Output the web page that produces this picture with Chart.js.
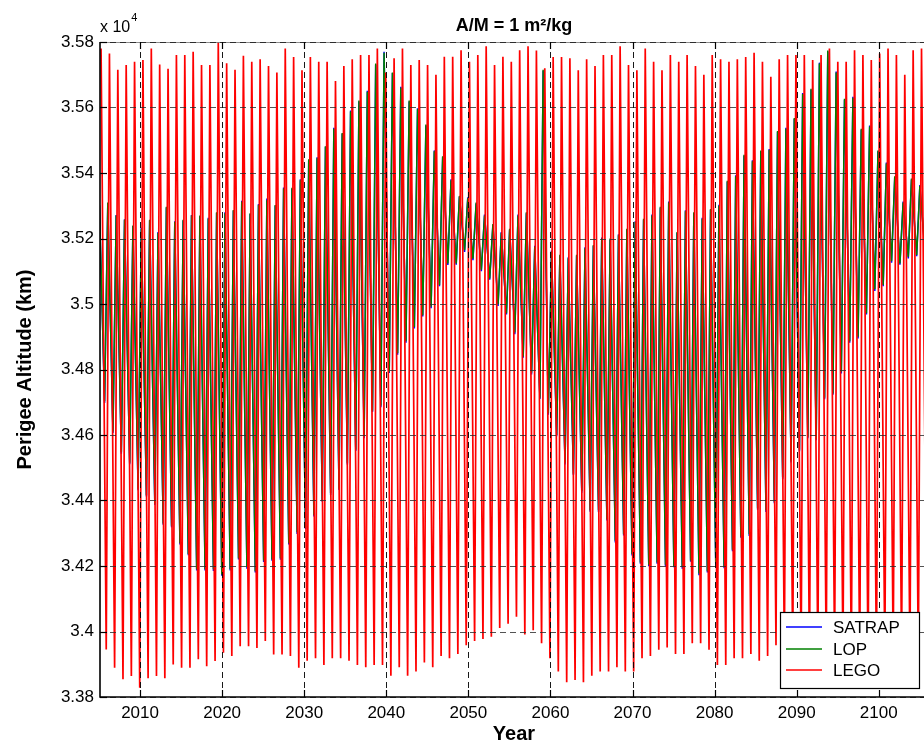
<!DOCTYPE html>
<html>
<head>
<meta charset="utf-8">
<script src="https://cdn.jsdelivr.net/npm/chart.js@4.4.0/dist/chart.umd.min.js"></script>
<style>
  html, body { margin: 0; padding: 0; background: #fff; overflow: hidden; width: 924px; height: 744px; }
  #wrap { position: absolute; left: 0; top: 0; width: 930px; height: 744px; }
</style>
</head>
<body>
<div id="wrap"><canvas id="chart" width="930" height="744"></canvas></div>
<script>
// ---- perigee altitude history (km), one maximum and one minimum per annual cycle ----
const yearTicks = [2010, 2020, 2030, 2040, 2050, 2060, 2070, 2080, 2090, 2100];
const altitudeTicks = [33800, 34000, 34200, 34400, 34600, 34800, 35000, 35200, 35400, 35600, 35800];
const seriesNames = ['SATRAP', 'LOP', 'LEGO'];
const seriesColors = ['#0000ff', '#008000', '#ff0000'];

// epochs of the annual cycle (years)
const legoFirstPeak = 2005.25;
const lopFirstPeak = 2005.05;
const cycleLength = 1.02;
const troughDelay = 0.63;

const legoPeaks = [
  35780, 35765, 35715, 35730, 35740, 35745, 35780, 35731, 35718, 35760, 35760, 35770, 35730, 35730, 35798, 35735, 35715,
  35758, 35740, 35747, 35727, 35707, 35780, 35754, 35714, 35754, 35740, 35740, 35681, 35727, 35747, 35760, 35760, 35780,
  35707, 35750, 35780, 35730, 35745, 35730, 35700, 35755, 35755, 35775, 35740, 35760, 35787, 35730, 35755, 35740, 35775,
  35787, 35774, 35720, 35754, 35754, 35750, 35714, 35747, 35727, 35760, 35760, 35787, 35730, 35714, 35780, 35740,
  35714, 35760, 35740, 35760, 35727, 35700, 35760, 35747, 35740, 35747, 35754, 35767, 35740, 35694, 35747, 35760,
  35760, 35760, 35745, 35760, 35780, 35740, 35740, 35775, 35760, 35745, 35765, 35780, 35760, 35700, 35775, 35780
];
const legoTroughs = [
  33945, 33889, 33854, 33864, 33828, 33857, 33864, 33857, 33899, 33889, 33889, 33915, 33894, 33910, 33935, 33925,
  33955, 33955, 33950, 33971, 33930, 33930, 33925, 33889,
  33911, 33918, 33898, 33918, 33918, 33911, 33898, 33891, 33898,
  33898, 33865, 33891, 33865, 33878, 33905, 33891, 33925, 33918, 33931, 33958, 33971, 33977, 33984, 34011, 34024, 34045,
  33991, 34004, 33964, 33918, 33878, 33845, 33852, 33845, 33865, 33878, 33878, 33891, 33878, 33878, 33918, 33925, 33944,
  33951, 33931, 33931, 33964, 33964, 33944, 33898, 33898, 33918, 33918, 33931, 33911, 33925, 33958,
  33930, 33920, 33910, 33900, 33910, 33920, 33930, 33920, 33910, 33900, 33890, 33900, 33910, 33920, 33930, 33920, 33910, 33900
];

const lopPeaks = [
  35300, 35310, 35270, 35257, 35240, 35230, 35257, 35217, 35297, 35250, 35257, 35270, 35270, 35260, 35280,
  35277, 35287, 35312, 35277, 35302, 35317, 35302, 35353, 35355, 35378, 35442, 35445, 35482, 35535, 35522, 35588, 35621, 35648, 35734,
  35767, 35707, 35660, 35621, 35595, 35548, 35466, 35451, 35378, 35330,
  35323, 35310, 35270, 35244, 35217, 35230,
  35270, 35280, 35175, 35715, 35160, 35150, 35140, 35150, 35170, 35180, 35200, 35200, 35210, 35230, 35250, 35260, 35270,
  35297, 35310, 35220, 35283, 35280, 35260, 35290, 35300, 35376, 35390, 35456, 35436, 35469, 35470, 35528, 35535, 35568,
  35641, 35657, 35734, 35774, 35707, 35627, 35630, 35535, 35542, 35469, 35429, 35390, 35310, 35383, 35360
];
const lopTroughs = [
  34703, 34611, 34548, 34515, 34436, 34416, 34390, 34330, 34323, 34270, 34237, 34190, 34190, 34190, 34174, 34190,
  34224, 34197, 34184, 34217, 34220, 34224, 34270, 34303, 34317, 34356, 34400, 34422, 34436, 34515, 34555, 34595, 34674,
  34690, 34793, 34850, 34886, 34930, 34966, 34992, 35058, 35124, 35124, 35164, 35138, 35105, 35078, 34999, 34972, 34913,
  34840, 34790, 34714, 34667, 34600, 34515, 34482, 34429, 34370, 34370, 34343, 34277, 34297, 34237, 34211, 34204, 34211,
  34204, 34200, 34197, 34217, 34177, 34184, 34210, 34197, 34250, 34290, 34297, 34376, 34370, 34396, 34470, 34520, 34555,
  34595, 34588, 34714, 34727, 34793, 34886, 34900, 34972, 35045, 35058, 35131, 35124, 35144, 35150, 35160
];

const satrapPeaks = [
  35302, 35308, 35272, 35259, 35238, 35233, 35255, 35220, 35295, 35253, 35255, 35272, 35268, 35263, 35278,
  35280, 35285, 35315, 35275, 35305, 35322, 35300, 35356, 35352, 35381, 35440, 35448, 35480, 35538, 35520, 35591, 35618, 35651, 35731,
  35770, 35705, 35663, 35618, 35598, 35545, 35469, 35448, 35381, 35327,
  35326, 35307, 35273, 35241, 35220, 35227,
  35273, 35277, 35178, 35712, 35163, 35147, 35143, 35147, 35173, 35177, 35203, 35197, 35213, 35227, 35253, 35257, 35273,
  35294, 35313, 35217, 35286, 35277, 35263, 35287, 35303, 35373, 35393, 35453, 35439, 35466, 35473, 35525, 35538, 35565,
  35644, 35654, 35737, 35771, 35710, 35624, 35633, 35532, 35545, 35466, 35432, 35387, 35313, 35380, 35363
];
const satrapTroughs = [
  34698, 34606, 34543, 34511, 34431, 34412, 34386, 34326, 34318, 34266, 34233, 34186, 34186, 34185, 34170, 34186,
  34220, 34192, 34180, 34212, 34216, 34219, 34266, 34298, 34313, 34351, 34396, 34417, 34432, 34510, 34551, 34590, 34670,
  34685, 34789, 34845, 34882, 34925, 34962, 34987, 35054, 35119, 35120, 35159, 35134, 35100, 35074, 34994, 34968, 34908,
  34836, 34785, 34710, 34662, 34596, 34510, 34478, 34424, 34366, 34365, 34339, 34272, 34293, 34232, 34207, 34199, 34207,
  34199, 34196, 34192, 34213, 34172, 34180, 34205, 34193, 34245, 34286, 34292, 34372, 34365, 34392, 34465, 34516, 34550,
  34590, 34584, 34709, 34723, 34788, 34882, 34895, 34968, 35040, 35054, 35126, 35120, 35139, 35146, 35156
];

// interleave maxima and minima on the cycle epochs
function cycleSeries(peaks, troughs, firstPeak) {
  const pts = [];
  for (let i = 0; i < peaks.length; i++) {
    const t = firstPeak + i * cycleLength;
    pts.push({ x: t, y: peaks[i] });
    pts.push({ x: t + troughDelay, y: troughs[i] });
  }
  return pts;
}

const FONT = '"Liberation Sans", Arial, Helvetica, sans-serif';

function fmtAlt(v) { return String(parseFloat((v / 1e4).toFixed(2))); }

// axes decoration, grid, labels and legend in the plotting-package style
const figurePlugin = {
  id: 'figure',
  beforeDraw(chart) {
    const ctx = chart.ctx;
    ctx.save();
    ctx.fillStyle = '#fff';
    ctx.fillRect(0, 0, chart.width, chart.height);
    ctx.restore();
  },
  afterDatasetsDraw(chart) {
    const ctx = chart.ctx;
    const area = chart.chartArea;
    const xs = chart.scales.x, ys = chart.scales.y;
    ctx.save();

    // dashed grid
    ctx.lineWidth = 1;
    ctx.setLineDash([6, 4]);
    ctx.strokeStyle = 'rgba(40,40,40,0.8)';
    altitudeTicks.forEach(v => {
      const y = Math.round(ys.getPixelForValue(v)) + 0.5;
      ctx.beginPath(); ctx.moveTo(area.left, y); ctx.lineTo(area.right, y); ctx.stroke();
    });
    ctx.strokeStyle = 'rgba(0,0,0,0.9)';
    yearTicks.forEach(v => {
      const x = Math.round(xs.getPixelForValue(v)) + 0.5;
      ctx.beginPath(); ctx.moveTo(x, area.top); ctx.lineTo(x, area.bottom); ctx.stroke();
    });
    ctx.setLineDash([]);

    // axis box
    ctx.strokeStyle = '#000';
    ctx.lineWidth = 1.6;
    ctx.beginPath();
    ctx.moveTo(area.left, area.top); ctx.lineTo(area.left, area.bottom); ctx.lineTo(area.right, area.bottom);
    ctx.stroke();
    ctx.lineWidth = 1;
    ctx.strokeStyle = 'rgba(0,0,0,0.45)';
    ctx.beginPath(); ctx.moveTo(area.left, area.top + 0.5); ctx.lineTo(area.right, area.top + 0.5); ctx.stroke();

    // inward tick marks
    ctx.strokeStyle = '#000';
    ctx.lineWidth = 1.2;
    const tl = 7;
    yearTicks.forEach(v => {
      const x = Math.round(xs.getPixelForValue(v)) + 0.5;
      ctx.beginPath(); ctx.moveTo(x, area.bottom); ctx.lineTo(x, area.bottom - tl); ctx.stroke();
      ctx.beginPath(); ctx.moveTo(x, area.top); ctx.lineTo(x, area.top + tl); ctx.stroke();
    });
    altitudeTicks.forEach(v => {
      const y = Math.round(ys.getPixelForValue(v)) + 0.5;
      ctx.beginPath(); ctx.moveTo(area.left, y); ctx.lineTo(area.left + tl, y); ctx.stroke();
    });

    // tick labels
    ctx.fillStyle = '#000';
    ctx.font = '17px ' + FONT;
    ctx.textAlign = 'right';
    ctx.textBaseline = 'middle';
    altitudeTicks.forEach(v => {
      ctx.fillText(fmtAlt(v), area.left - 6, ys.getPixelForValue(v));
    });
    ctx.textAlign = 'center';
    yearTicks.forEach(v => {
      ctx.fillText(String(v), xs.getPixelForValue(v), area.bottom + 16);
    });

    // exponent note
    ctx.textAlign = 'left';
    ctx.textBaseline = 'alphabetic';
    ctx.font = '16px ' + FONT;
    ctx.fillText('x 10', area.left, 32);
    const w = ctx.measureText('x 10').width;
    ctx.font = '11px ' + FONT;
    ctx.fillText('4', area.left + w + 1, 21);

    // title
    ctx.font = 'bold 18px ' + FONT;
    ctx.textAlign = 'center';
    ctx.fillText('A/M = 1 m\u00b2/kg', (area.left + area.right) / 2, 31);

    // axis titles
    ctx.font = 'bold 20px ' + FONT;
    ctx.textBaseline = 'middle';
    ctx.fillText('Year', (area.left + area.right) / 2, 734);
    ctx.save();
    ctx.translate(25, (area.top + area.bottom) / 2);
    ctx.rotate(-Math.PI / 2);
    ctx.fillText('Perigee Altitude (km)', 0, 0);
    ctx.restore();

    // legend
    const lx = 780, ly = 612, lw = 139, lh = 76;
    ctx.fillStyle = '#fff';
    ctx.fillRect(lx, ly, lw, lh);
    ctx.strokeStyle = '#000';
    ctx.lineWidth = 1.2;
    ctx.strokeRect(lx + 0.5, ly + 0.5, lw, lh);
    ctx.font = '17px ' + FONT;
    ctx.textAlign = 'left';
    ctx.textBaseline = 'middle';
    chart.data.datasets.forEach((ds, i) => {
      const yy = Math.round(ly + 15 + i * 21.5);
      ctx.strokeStyle = ds.borderColor;
      ctx.lineWidth = 1.5;
      ctx.beginPath(); ctx.moveTo(lx + 6, yy); ctx.lineTo(lx + 42, yy); ctx.stroke();
      ctx.fillStyle = '#000';
      ctx.fillText(ds.label, lx + 53, yy + 1);
    });

    ctx.restore();
  }
};

new Chart(document.getElementById('chart'), {
  type: 'line',
  data: {
    datasets: [
      { label: seriesNames[0], data: cycleSeries(satrapPeaks, satrapTroughs, lopFirstPeak), borderColor: seriesColors[0], borderWidth: 1.5, order: 2 },
      { label: seriesNames[1], data: cycleSeries(lopPeaks, lopTroughs, lopFirstPeak), borderColor: seriesColors[1], borderWidth: 1.5, order: 1 },
      { label: seriesNames[2], data: cycleSeries(legoPeaks, legoTroughs, legoFirstPeak), borderColor: seriesColors[2], borderWidth: 1.7, order: 0 }
    ]
  },
  options: {
    responsive: false,
    animation: false,
    devicePixelRatio: 1,
    layout: { padding: { left: 0, top: 42, right: 2, bottom: 0 } },
    elements: { point: { radius: 0 }, line: { tension: 0, fill: false } },
    plugins: { legend: { display: false }, title: { display: false }, tooltip: { enabled: false } },
    scales: {
      x: {
        type: 'linear', min: 2005.12, max: 2106,
        grid: { display: false, drawTicks: false }, border: { display: false },
        ticks: { display: false },
        afterBuildTicks: s => { s.ticks = yearTicks.map(v => ({ value: v })); },
        afterFit: s => { s.height = 47; }
      },
      y: {
        type: 'linear', min: 33800, max: 35800,
        grid: { display: false, drawTicks: false }, border: { display: false },
        ticks: { display: false },
        afterBuildTicks: s => { s.ticks = altitudeTicks.map(v => ({ value: v })); },
        afterFit: s => { s.width = 100; }
      }
    }
  },
  plugins: [figurePlugin]
});
</script>
</body>
</html>
